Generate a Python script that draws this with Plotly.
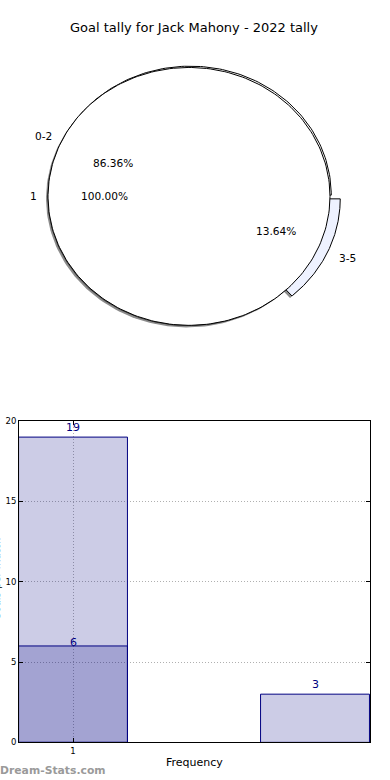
import numpy as np
import plotly.graph_objects as go

# ---------------- data ----------------
title_text = "Goal tally for Jack Mahony - 2022 tally"
pie_labels = ["0-2", "3-5"]
pie_values = [19, 3]
pie_explode = [0.0, 0.07]
pie_colors = ["#ffffff", "#eef2ff"]
inner_labels = ["1"]
inner_values = [6]

bar_x = [1, 3]
bar_totals = [19, 3]
bar_inner_x = [1]
bar_inner = [6]
x_ticks = [1]
y_ticks = [0, 5, 10, 15, 20]

W, H = 390, 780
FONT = "DejaVu Sans"
NAVY = "#000080"

# the photographed page is compressed slightly in the vertical direction; map target pixels to paper
SY, OY = 0.98, 8.0
def PX(sx):
    return sx / W
def PY(sy):
    return 1 - ((sy - OY) / SY) / H

fig = go.Figure()

# ---------------- pie (ellipse wedges on an xy subplot) ----------------
def wedge(theta1, theta2, cx=0.0, cy=0.0, r=1.0, full=False):
    t = np.radians(np.linspace(theta1, theta2, 240))
    xs = cx + r * np.cos(t)
    ys = cy + r * np.sin(t)
    if not full:
        xs = np.concatenate([[cx], xs, [cx]])
        ys = np.concatenate([[cy], ys, [cy]])
    return xs, ys

SHX, SHY = -0.014, -0.016
shadow_col = "rgba(0,0,0,0.45)"

def add_poly(xs, ys, fill, line_col, lw):
    fig.add_trace(go.Scatter(x=xs, y=ys, mode="lines", fill="toself",
                             fillcolor=fill, line=dict(color=line_col, width=lw),
                             xaxis="x2", yaxis="y2", hoverinfo="skip", showlegend=False))

def draw_pie(values, labels, explode, colors, offset=(0.0, 0.0)):
    total = float(sum(values))
    start = 0.0
    annots = []
    for v, lab, e, c in zip(values, labels, explode, colors):
        span = 360.0 * v / total
        mid = np.radians(start + span / 2)
        cx = offset[0] + e * np.cos(mid)
        cy = offset[1] + e * np.sin(mid)
        full = span >= 359.999
        xs, ys = wedge(start, start + span, cx, cy, 1.0, full)
        add_poly(xs + SHX, ys + SHY, shadow_col, "rgba(0,0,0,0)", 0)
        add_poly(xs, ys, c, "black", 1)
        lx, ly = cx + 1.1 * np.cos(mid), cy + 1.1 * np.sin(mid)
        px_, py_ = cx + 0.6 * np.cos(mid), cy + 0.6 * np.sin(mid)
        right = np.cos(mid) >= 0
        annots.append(dict(x=lx, y=ly, text=lab, xanchor="left" if right else "right",
                           xshift=-3 if right else 5))
        annots.append(dict(x=px_, y=py_, text="%.2f%%" % (100.0 * v / total),
                           xanchor="center", xshift=0))
        start += span
    return annots

pie_annots = draw_pie(pie_values, pie_labels, pie_explode, pie_colors, offset=(0.009, 0.01))
pie_annots += draw_pie(inner_values, inner_labels, [0.0], ["#ffffff"])

annotations = []
for a in pie_annots:
    annotations.append(dict(x=a["x"], y=a["y"], text=a["text"], xref="x2", yref="y2",
                            xanchor=a["xanchor"], xshift=a["xshift"], yanchor="middle",
                            showarrow=False, font=dict(family=FONT, size=10.6, color="black")))

# ---------------- bars ----------------
fig.add_trace(go.Bar(x=bar_x, y=bar_totals, width=0.9,
                     marker=dict(color="rgba(0,0,128,0.2)", line=dict(color=NAVY, width=1)),
                     xaxis="x", yaxis="y", showlegend=False, hoverinfo="skip"))
fig.add_trace(go.Bar(x=bar_inner_x, y=bar_inner, width=0.9,
                     marker=dict(color="rgba(0,0,128,0.2)", line=dict(color=NAVY, width=1)),
                     xaxis="x", yaxis="y", showlegend=False, hoverinfo="skip"))

for xv, yv in zip(bar_x, bar_totals):
    annotations.append(dict(x=xv, y=yv, text=str(yv), xref="x", yref="y", showarrow=False,
                            yanchor="bottom", yshift=1,
                            font=dict(family=FONT, size=11, color=NAVY)))
for xv, yv in zip(bar_inner_x, bar_inner):
    annotations.append(dict(x=xv, y=yv, text=str(yv), xref="x", yref="y", showarrow=False,
                            yanchor="bottom", yshift=-5,
                            font=dict(family=FONT, size=11, color=NAVY)))

# title
annotations.append(dict(x=PX(194), y=PY(30), xref="paper", yref="paper", text=title_text,
                        showarrow=False, xanchor="center", yanchor="middle",
                        font=dict(family=FONT, size=13, color="black")))
# x title
annotations.append(dict(x=PX(194), y=PY(760), xref="paper", yref="paper", text="Frequency",
                        showarrow=False, xanchor="center", yanchor="middle",
                        font=dict(family=FONT, size=11, color="black")))
# y title (clipped at the left edge, as in the reference)
annotations.append(dict(x=0, y=PY(578), xref="paper", yref="paper", text="Goals per match",
                        showarrow=False, xanchor="center", yanchor="middle", textangle=-90,
                        xshift=-4, font=dict(family=FONT, size=10, color="black")))
# watermark
annotations.append(dict(x=0, y=PY(768), xref="paper", yref="paper", text="<b>Dream-Stats.com</b>",
                        showarrow=False, xanchor="left", yanchor="middle", xshift=-2,
                        font=dict(family=FONT, size=10.8, color="#9a9a9a")))

axis_common = dict(showline=True, mirror="ticks", linecolor="black", linewidth=1,
                   ticks="inside", ticklen=4, tickcolor="black", showgrid=True,
                   gridcolor="#b0b0b0", griddash="1px,2px", gridwidth=1, zeroline=False,
                   tickfont=dict(family=FONT, size=8.5, color="black"), fixedrange=True)

# pie axes: unit radius = 141 px horizontally, 128 px vertically, centre at (189, 198)
y2_top, y2_bot = OY, 400.0

fig.update_layout(
    width=W, height=H, margin=dict(l=0, r=0, t=0, b=0),
    paper_bgcolor="white", plot_bgcolor="white", barmode="overlay",
    xaxis=dict(domain=[PX(19), PX(370)], range=[0.5537, 3.4545], tickvals=x_ticks,
               anchor="y", **axis_common),
    yaxis=dict(domain=[PY(740), PY(421)], range=[0, 20], tickvals=y_ticks,
               anchor="x", **axis_common),
    xaxis2=dict(domain=[0, 1], range=[(0 - 189) / 141, (W - 189) / 141],
                visible=False, anchor="y2", fixedrange=True),
    yaxis2=dict(domain=[PY(y2_bot), 1], range=[(198 - y2_bot) / 128, (198 - y2_top) / 128],
                visible=False, anchor="x2", fixedrange=True),
    annotations=annotations,
    font=dict(family=FONT),
)

fig.write_html("out.html", config={"displayModeBar": False},
               post_script="document.body.style.margin='0';document.body.style.overflow='hidden';")
